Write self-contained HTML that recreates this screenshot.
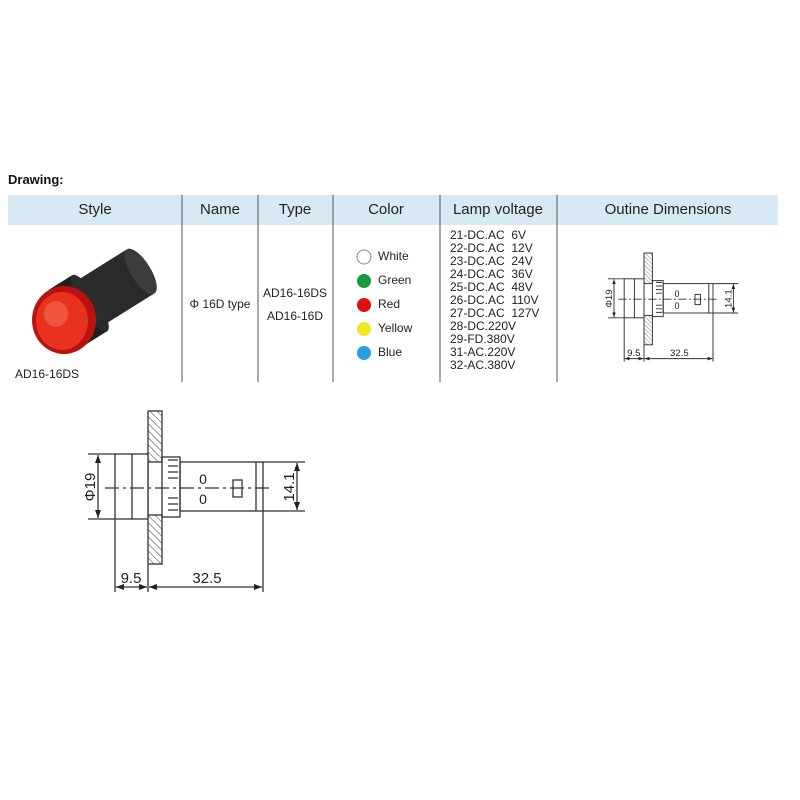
<!DOCTYPE html>
<html><head><meta charset="utf-8"><style>
body{margin:0;background:#fff;width:800px;height:800px;overflow:hidden;font-family:"Liberation Sans",Arial,sans-serif;}
svg{position:absolute;left:0;top:0}
text{font-family:"Liberation Sans",Arial,sans-serif;white-space:pre}
</style></head><body>
<svg width="800" height="800" viewBox="0 0 800 800" font-family="Liberation Sans, Arial, sans-serif">
<defs>
<pattern id="h" width="5" height="5" patternUnits="userSpaceOnUse" patternTransform="rotate(-45)"><line x1="0" y1="0" x2="0" y2="5" stroke="#333" stroke-width="1"/></pattern>
<marker id="a" markerWidth="8" markerHeight="6" refX="8" refY="3" orient="auto-start-reverse" markerUnits="userSpaceOnUse"><path d="M0,0 L8,3 L0,6z" fill="#222"/></marker>
</defs>
<text x="8" y="184" font-size="13" font-weight="bold" fill="#111">Drawing:</text>
<rect x="8" y="195" width="770" height="30" fill="#d6e9f4"/>
<g stroke="#555" stroke-width="1">
<line x1="182" y1="195" x2="182" y2="382"/><line x1="258" y1="195" x2="258" y2="382"/>
<line x1="333" y1="195" x2="333" y2="382"/><line x1="440" y1="195" x2="440" y2="382"/>
<line x1="557" y1="195" x2="557" y2="382"/>
</g>
<g font-size="15" fill="#222" text-anchor="middle">
<text x="95" y="214">Style</text><text x="220" y="214">Name</text><text x="295" y="214">Type</text>
<text x="386" y="214">Color</text><text x="498" y="214">Lamp voltage</text><text x="668" y="214">Outine Dimensions</text>
</g>
<g font-size="12" fill="#222">
<text x="15" y="378">AD16-16DS</text>
<text x="220" y="308" text-anchor="middle">Φ 16D type</text>
<text x="295" y="297" text-anchor="middle">AD16-16DS</text>
<text x="295" y="320" text-anchor="middle">AD16-16D</text>
<text x="378" y="260">White</text><text x="378" y="284">Green</text><text x="378" y="308">Red</text><text x="378" y="332">Yellow</text><text x="378" y="356">Blue</text>
</g>
<circle cx="364" cy="257" r="7" fill="#fff" stroke="#888"/>
<circle cx="364" cy="281" r="7" fill="#1a9a3a"/>
<circle cx="364" cy="305" r="7" fill="#e01010"/>
<circle cx="364" cy="329" r="7" fill="#f0e820"/>
<circle cx="364" cy="353" r="7" fill="#2a9ee0"/>
<g font-size="12" fill="#222">
<text x="450" y="239">21-DC.AC  6V</text><text x="450" y="252">22-DC.AC  12V</text><text x="450" y="265">23-DC.AC  24V</text>
<text x="450" y="278">24-DC.AC  36V</text><text x="450" y="291">25-DC.AC  48V</text><text x="450" y="304">26-DC.AC  110V</text>
<text x="450" y="317">27-DC.AC  127V</text><text x="450" y="330">28-DC.220V</text><text x="450" y="343">29-FD.380V</text>
<text x="450" y="356">31-AC.220V</text><text x="450" y="369">32-AC.380V</text>
</g>
<g transform="translate(66,318) rotate(-32)">
<rect x="0" y="-26" width="88" height="52" fill="#2a2a2a"/>
<ellipse cx="88" cy="0" rx="10" ry="26" fill="#3c3c3c"/>
<rect x="0" y="-33" width="28" height="66" fill="#202020"/>
<ellipse cx="28" cy="0" rx="9" ry="33" fill="#2c2c2c"/>
</g>
<ellipse cx="64" cy="320" rx="32" ry="34" fill="#b81212"/>
<ellipse cx="62" cy="321" rx="26" ry="29" fill="#e8321f"/>
<ellipse cx="56" cy="314" rx="12" ry="13" fill="#f0533e"/>

<g id="big">
<g stroke="#333" stroke-width="1.3" fill="none">
<rect x="148" y="411" width="14" height="51" fill="url(#h)"/>
<rect x="148" y="515" width="14" height="49" fill="url(#h)"/>
<line x1="148" y1="462" x2="148" y2="515"/>
<rect x="115" y="454" width="33" height="65" fill="#fff"/>
<line x1="132" y1="454" x2="132" y2="519"/>
<rect x="162" y="457" width="18" height="60"/>
<path d="M168,460 h10 M168,466 h10 M168,472 h10 M168,478 h10 M168,498 h10 M168,504 h10 M168,510 h10"/>
<rect x="180" y="462" width="83" height="49"/>
<line x1="256" y1="462" x2="256" y2="511"/>
<rect x="233" y="480" width="9" height="17"/>
<line x1="105" y1="488" x2="270" y2="488" stroke-dasharray="14,4,3,4"/>
<line x1="88" y1="454" x2="115" y2="454"/><line x1="88" y1="519" x2="115" y2="519"/>
<line x1="98" y1="455" x2="98" y2="518" marker-start="url(#a)" marker-end="url(#a)"/>
<line x1="263" y1="462" x2="305" y2="462"/><line x1="263" y1="511" x2="305" y2="511"/>
<line x1="297" y1="463" x2="297" y2="510" marker-start="url(#a)" marker-end="url(#a)"/>
<line x1="115" y1="519" x2="115" y2="592"/><line x1="148" y1="564" x2="148" y2="592"/><line x1="263" y1="511" x2="263" y2="592"/>
<line x1="116" y1="587" x2="147" y2="587" marker-start="url(#a)" marker-end="url(#a)"/>
<line x1="149" y1="587" x2="262" y2="587" marker-start="url(#a)" marker-end="url(#a)"/>
</g>
<g fill="#222" font-size="15">
<text x="203" y="484" text-anchor="middle" font-size="14">0</text>
<text x="203" y="504" text-anchor="middle" font-size="14">0</text>
<text x="131" y="583" text-anchor="middle">9.5</text>
<text x="207" y="583" text-anchor="middle">32.5</text>
<text transform="translate(95,487) rotate(-90)" text-anchor="middle">Φ19</text>
<text transform="translate(294,487) rotate(-90)" text-anchor="middle">14.1</text>
</g>
</g>

<g transform="translate(555.2,6.4) scale(0.6)">
<g stroke="#333" stroke-width="1.6" fill="none">
<rect x="148" y="411" width="14" height="51" fill="url(#h)"/>
<rect x="148" y="515" width="14" height="49" fill="url(#h)"/>
<line x1="148" y1="462" x2="148" y2="515"/>
<rect x="115" y="454" width="33" height="65" fill="#fff"/>
<line x1="132" y1="454" x2="132" y2="519"/>
<rect x="162" y="457" width="18" height="60"/>
<path d="M168,460 h10 M168,466 h10 M168,472 h10 M168,478 h10 M168,498 h10 M168,504 h10 M168,510 h10"/>
<rect x="180" y="462" width="83" height="49"/>
<line x1="256" y1="462" x2="256" y2="511"/>
<rect x="233" y="480" width="9" height="17"/>
<line x1="105" y1="488" x2="270" y2="488" stroke-dasharray="14,4,3,4"/>
<line x1="88" y1="454" x2="115" y2="454"/><line x1="88" y1="519" x2="115" y2="519"/>
<line x1="98" y1="455" x2="98" y2="518" marker-start="url(#a)" marker-end="url(#a)"/>
<line x1="263" y1="462" x2="305" y2="462"/><line x1="263" y1="511" x2="305" y2="511"/>
<line x1="297" y1="463" x2="297" y2="510" marker-start="url(#a)" marker-end="url(#a)"/>
<line x1="115" y1="519" x2="115" y2="592"/><line x1="148" y1="564" x2="148" y2="592"/><line x1="263" y1="511" x2="263" y2="592"/>
<line x1="116" y1="587" x2="147" y2="587" marker-start="url(#a)" marker-end="url(#a)"/>
<line x1="149" y1="587" x2="262" y2="587" marker-start="url(#a)" marker-end="url(#a)"/>
</g>
<g fill="#222" font-size="16">
<text x="203" y="484" text-anchor="middle" font-size="15">0</text>
<text x="203" y="504" text-anchor="middle" font-size="15">0</text>
<text x="131" y="583" text-anchor="middle">9.5</text>
<text x="207" y="583" text-anchor="middle">32.5</text>
<text transform="translate(95,487) rotate(-90)" text-anchor="middle">Φ19</text>
<text transform="translate(294,487) rotate(-90)" text-anchor="middle">14.1</text>
</g>
</g>
</svg>
</body></html>
